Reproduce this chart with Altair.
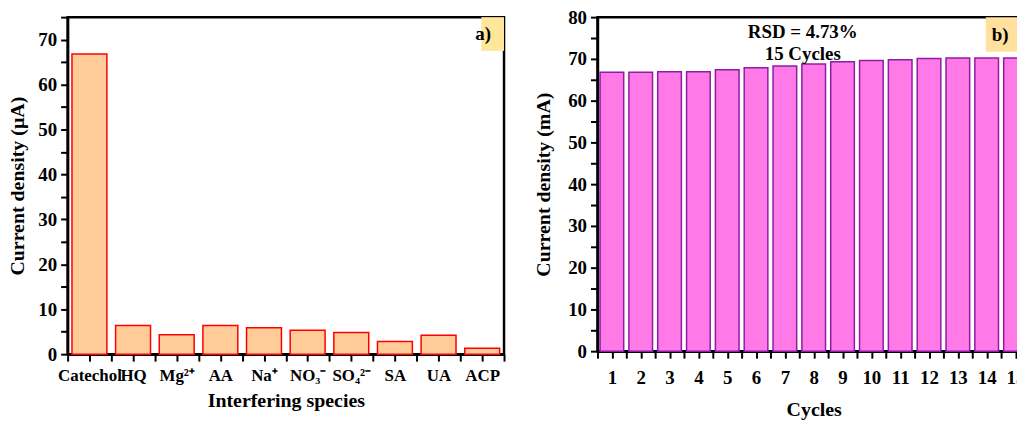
import json
import altair as alt
import pandas as pd

# ---------------- data ----------------
species = ["Catechol", "HQ", "Mg²⁺", "AA", "Na⁺", "NO₃⁻", "SO₄²⁻", "SA", "UA", "ACP"]
species_current = [66.8, 6.4, 4.3, 6.4, 5.9, 5.3, 4.8, 2.8, 4.2, 1.3]

cycles = list(range(1, 16))
cycle_current = [66.8, 66.8, 66.9, 66.9, 67.4, 67.9, 68.3, 68.8, 69.3, 69.6,
                 69.8, 70.1, 70.2, 70.2, 70.2]

left_ticks = [i / 2 for i in range(-1, 20)]
right_ticks = [0.5 + i / 2 for i in range(0, 31)]
y_ticks_a = list(range(0, 76, 5))
y_ticks_b = list(range(0, 81, 5))

FONT = "Liberation Serif"
HALF_A = 0.4
HALF_B = 0.41

df_a = pd.DataFrame({"idx": list(range(len(species))), "name": species, "val": species_current})
df_a["x0"] = df_a["idx"] - HALF_A
df_a["x1"] = df_a["idx"] + HALF_A

df_b = pd.DataFrame({"cycle": cycles, "val": cycle_current})
df_b["x0"] = df_b["cycle"] - HALF_B
df_b["x1"] = df_b["cycle"] + HALF_B

arr = json.dumps(species, ensure_ascii=False)
label_a = f"(datum.value % 1 == 0 && datum.value >= 0) ? {arr}[datum.value] : ''"
label_b = "(datum.value % 1 == 0) ? format(datum.value, 'd') : ''"
label_y = "(datum.value % 10 == 0) ? datum.label : ''"

axis_common = dict(
    grid=False, domainColor="black", domainWidth=2.5, tickColor="black",
    tickWidth=2, tickSize=7, labelFont=FONT, labelFontSize=19, labelFontWeight="bold",
    labelColor="black", titleFont=FONT, titleFontSize=20, titleFontWeight="bold",
    titleColor="black", labelOverlap=False, labelFlush=False,
)
x_common = dict(axis_common, labelFontSize=17)

ax_a = alt.Axis(values=left_ticks, labelExpr=label_a, title="Interfering species",
                labelPadding=7, titlePadding=7, **x_common)
ay_a = alt.Axis(values=y_ticks_a, labelExpr=label_y, title="Current density (µA)",
                labelPadding=4, titlePadding=10, **axis_common)
sx_a = alt.Scale(domain=[-0.5, 9.5], nice=False, zero=False)
sy_a = alt.Scale(domain=[0, 75], nice=False)

ax_b = alt.Axis(values=right_ticks, labelExpr=label_b, title="Cycles",
                labelPadding=11, titlePadding=12, **axis_common)
ay_b = alt.Axis(values=y_ticks_b, labelExpr=label_y, title="Current density (mA)",
                labelPadding=4, titlePadding=14, **axis_common)
sx_b = alt.Scale(domain=[0.5, 15.5], nice=False, zero=False)
sy_b = alt.Scale(domain=[0, 80], nice=False)


def X(field, scale, axis):
    return alt.X(field, scale=scale, axis=axis)


def Y(field, scale, axis):
    return alt.Y(field, scale=scale, axis=axis)


# ---------------- panel a ----------------
bars_a = alt.Chart(df_a).mark_bar(fill="#FFCC99", stroke="#FF0000", strokeWidth=1.5).encode(
    x=X("x0:Q", sx_a, ax_a), x2="x1:Q", y=Y("val:Q", sy_a, ay_a), y2=alt.datum(0))

box_a = alt.Chart(pd.DataFrame({"x0": [8.98], "x1": [9.5], "val": [67.5], "v1": [75]})).mark_rect(
    fill="#FFE699").encode(x=X("x0:Q", sx_a, ax_a), x2="x1:Q", y=Y("val:Q", sy_a, ay_a), y2="v1:Q")
txt_a = alt.Chart(pd.DataFrame({"x0": [9.02], "val": [71.3], "t": ["a)"]})).mark_text(
    font=FONT, fontSize=19, fontWeight="bold", color="black").encode(
    x=X("x0:Q", sx_a, ax_a), y=Y("val:Q", sy_a, ay_a), text="t:N")

panel_a = alt.layer(bars_a, box_a, txt_a).properties(width=439, height=339)

# ---------------- panel b ----------------
bars_b = alt.Chart(df_b).mark_bar(fill="#FF7AE6", stroke="#8E1CA8", strokeWidth=1.5).encode(
    x=X("x0:Q", sx_b, ax_b), x2="x1:Q", y=Y("val:Q", sy_b, ay_b), y2=alt.datum(0))

box_b = alt.Chart(pd.DataFrame({"x0": [13.97], "x1": [15.5], "val": [71.7], "v1": [80]})).mark_rect(
    fill="#FFE09C").encode(x=X("x0:Q", sx_b, ax_b), x2="x1:Q", y=Y("val:Q", sy_b, ay_b), y2="v1:Q")
txt_b = alt.Chart(pd.DataFrame({"x0": [14.47], "val": [75.8], "t": ["b)"]})).mark_text(
    font=FONT, fontSize=19, fontWeight="bold", color="black").encode(
    x=X("x0:Q", sx_b, ax_b), y=Y("val:Q", sy_b, ay_b), text="t:N")
rsd = alt.Chart(pd.DataFrame({"x0": [7.62, 7.62], "val": [76.4, 71.2],
                              "t": ["RSD = 4.73%", "15 Cycles"]})).mark_text(
    font=FONT, fontSize=19, fontWeight="bold", color="black").encode(
    x=X("x0:Q", sx_b, ax_b), y=Y("val:Q", sy_b, ay_b), text="t:N")

panel_b = alt.layer(bars_b, box_b, txt_b, rsd).properties(width=435, height=336)

chart = alt.hconcat(panel_a, panel_b, spacing=25).configure(
    padding={"left": 6, "top": 5, "right": -16, "bottom": 0}
).configure_view(stroke="black", strokeWidth=2.5)

chart.save("out.html", embed_options={"renderer": "svg", "actions": False})
